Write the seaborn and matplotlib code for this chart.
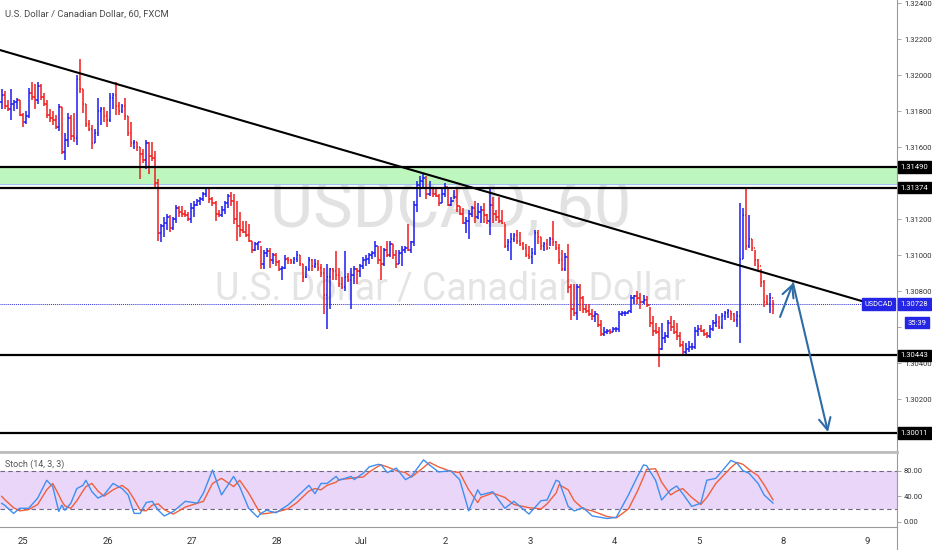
import numpy as np
import pandas as pd
import seaborn as sns
import matplotlib.pyplot as plt
from matplotlib.lines import Line2D
from matplotlib.ticker import FormatStrFormatter

# USDCAD 60 min bars, in pips above 1.3000 (open = previous close)
high_pips = [
    192, 191, 186, 192, 186, 187, 186, 179, 180, 193, 196, 195, 196, 195, 190, 186, 181, 180, 178, 184, 182,
    168, 179, 178, 179, 200, 209, 192, 184, 175, 172, 170, 187, 182, 182, 180, 190, 190, 196, 185, 184, 187,
    177, 174, 164, 163, 160, 159, 164, 163, 163, 158, 142, 117, 121, 123, 122, 121, 128, 127, 127, 125, 124,
    129, 130, 131, 132, 135, 138, 137, 132, 130, 125, 127, 130, 134, 135, 134, 130, 124, 119, 119, 117, 108,
    107, 107, 105, 103, 104, 104, 101, 101, 97, 94, 100, 99, 98, 99, 102, 100, 95, 94, 99, 98, 98, 97, 95,
    93, 95, 93, 93, 102, 93, 88, 102, 90, 93, 94, 93, 95, 99, 100, 101, 102, 108, 105, 105, 104,
    108, 108, 106, 103, 103, 105, 105, 117, 108, 130, 141, 144, 145, 144, 141, 138, 137, 134, 137, 140, 138,
    132, 136, 138, 127, 126, 121, 125, 127, 130, 129, 127, 129, 123, 138, 132, 125, 132, 125, 117, 109, 112,
    112, 114, 113, 107, 106, 105, 104, 114, 114, 110, 107, 109, 110, 119, 108, 106, 103, 101, 106, 84, 84, 84, 84,
    77, 73, 73, 70, 69, 67, 64, 60, 59, 59, 60, 60, 69, 69, 69, 69, 78, 78, 80, 79, 78, 77, 71, 66, 62, 60,
    62, 57, 64, 66, 64, 62, 57, 52, 51, 52, 51, 60, 61, 61, 59, 57, 61, 64, 67, 66, 68, 69, 70, 69, 68, 69,
    129, 126, 137, 122, 109, 103, 98, 92, 86, 78, 79, 75,
]
low_pips = [
    181, 181, 180, 175, 180, 181, 177, 171, 173, 176, 186, 181, 184, 186, 183, 176, 174, 172, 170, 169, 156,
    153, 160, 164, 163, 161, 190, 179, 171, 169, 159, 162, 166, 172, 174, 171, 174, 181, 178, 178, 179, 175,
    166, 160, 159, 158, 142, 151, 148, 145, 152, 138, 108, 107, 110, 114, 113, 114, 118, 121, 121, 121, 119,
    118, 121, 127, 128, 130, 132, 129, 127, 119, 121, 121, 123, 126, 127, 117, 108, 110, 112, 110, 107, 101,
    102, 103, 92, 92, 99, 93, 95, 94, 91, 86, 92, 95, 95, 95, 96, 94, 85, 87, 91, 91, 93, 91, 88,
    67, 59, 70, 86, 86, 82, 81, 80, 85, 70, 84, 84, 88, 92, 94, 95, 98, 99, 95, 86, 94,
    99, 99, 98, 93, 95, 94, 101, 102, 101, 105, 124, 132, 138, 131, 133, 132, 132, 127, 129, 132, 127,
    127, 131, 124, 122, 117, 112, 109, 121, 118, 120, 118, 118, 117, 111, 118, 119, 118, 117, 104, 102, 97,
    107, 106, 105, 103, 99, 98, 95, 100, 106, 103, 102, 103, 105, 105, 103, 95, 91, 91, 79, 64, 66, 64, 69,
    68, 68, 66, 64, 63, 60, 55, 55, 56, 56, 57, 57, 57, 66, 66, 67, 68, 73, 73, 70, 73, 71, 60, 55, 56, 38,
    47, 51, 54, 58, 56, 53, 49, 45, 44, 46, 47, 48, 55, 57, 55, 54, 54, 58, 60, 59, 59, 64, 65, 64, 63, 60,
    51, 98, 103, 104, 102, 94, 91, 82, 71, 72, 68, 67,
]
close_pips = [
    189, 183, 181, 184, 185, 186, 178, 174, 177, 190, 188, 186, 194, 188, 184, 178, 176, 175, 171, 182, 157,
    164, 176, 166, 165, 198, 192, 184, 173, 170, 162, 168, 180, 181, 177, 175, 187, 189, 183, 180, 183, 177,
    168, 162, 163, 160, 156, 153, 162, 155, 154, 140, 112, 116, 118, 121, 115, 120, 126, 124, 123, 122, 120,
    126, 128, 130, 131, 134, 137, 131, 129, 123, 122, 125, 129, 133, 130, 120, 116, 114, 113, 111, 108, 103,
    106, 107, 95, 101, 102, 97, 100, 96, 92, 93, 98, 97, 96, 98, 100, 95, 88, 92, 97, 94, 95, 93, 90,
    78, 88, 92, 91, 89, 84, 82, 88, 86, 89, 92, 91, 94, 97, 98, 100, 101, 105, 97, 95, 103,
    100, 106, 100, 95, 101, 103, 104, 103, 107, 128, 139, 141, 143, 134, 137, 134, 133, 129, 134, 138, 128,
    130, 132, 127, 123, 118, 119, 123, 126, 121, 124, 125, 122, 119, 128, 123, 121, 119, 118, 105, 107, 109,
    111, 108, 106, 104, 100, 99, 101, 112, 110, 105, 106, 104, 109, 107, 104, 97, 92, 99, 82, 70, 68, 82, 76,
    70, 69, 67, 66, 67, 61, 56, 57, 58, 57, 59, 59, 67, 68, 68, 69, 76, 77, 76, 74, 75, 72, 62, 58, 57, 48,
    54, 55, 62, 60, 57, 55, 50, 46, 48, 49, 49, 58, 59, 58, 56, 55, 59, 62, 63, 60, 66, 68, 69, 67, 64, 66,
    98, 122, 105, 109, 104, 97, 94, 85, 74, 73, 76, 73,
]
first_open_pips = 185

day_labels = ["25", "26", "27", "28", "Jul", "2", "3", "4", "5", "8", "9"]
day_bars = [7.1, 35.3, 63.2, 91.4, 119.3, 147.2, 175.4, 203.2, 231.4, 259.3, 287.2]

price_ticks = [1.302, 1.304, 1.306, 1.308, 1.310, 1.312, 1.314, 1.316, 1.318, 1.320, 1.322, 1.324]
# labels hidden behind the boxes on the scale are left blank
price_tick_labels = ["1.30200", "1.30400", "", "1.30800", "1.31000", "1.31200", "", "1.31600",
                     "1.31800", "1.32000", "1.32200", "1.32400"]

# drawings on the chart
zone_top, zone_bottom = 1.31490, 1.31394
level_prices = [1.31490, 1.31374, 1.30443, 1.30011]
level_labels = ["1.31490", "1.31374", "1.30443", "1.30011"]
last_price = 1.30728
trend_bars = [-0.5, 291.5]
trend_prices = [1.32139, 1.30715]
arrow_bars = [258.3, 262.6, 274.2]
arrow_prices = [1.30656, 1.30844, 1.30017]

# Stoch (14, 3, 3)
stoch_bars = [0, 1, 4, 6, 9, 12, 15, 17, 19, 20, 21, 23, 25, 27, 28, 30, 32, 34, 37, 40, 42, 44, 46, 48, 50,
              52, 54, 57, 61, 65, 67, 70, 73, 77, 79, 82, 85, 86, 88, 91, 95, 98, 102, 104, 106, 108, 111,
              112, 116, 117, 120, 122, 125, 126, 128, 131, 134, 136, 140, 142, 145, 149, 152, 155, 158, 159,
              163, 167, 170, 175, 179, 181, 184, 185, 188, 190, 193, 196, 201, 204, 208, 211, 213, 214, 217,
              219, 222, 224, 226, 229, 232, 234, 237, 242, 244, 246, 248, 251, 253, 256]
stoch_k = [29, 26, 13, 21, 21, 37, 65, 55, 16, 26, 18, 29, 52, 57, 65, 47, 37, 42, 60, 52, 42, 13, 13, 30, 32,
           18, 9, 16, 32, 29, 45, 81, 42, 71, 55, 21, 7, 13, 18, 14, 26, 39, 57, 44, 60, 60, 71, 65, 71, 66,
           76, 86, 90, 89, 77, 84, 66, 71, 97, 89, 78, 80, 66, 17, 50, 42, 47, 21, 32, 12, 33, 34, 65, 63, 24,
           17, 22, 9, 5, 7, 42, 71, 89, 88, 65, 34, 50, 56, 44, 24, 29, 65, 68, 96, 92, 80, 76, 60, 42, 29]
stoch_d = [40, 35, 22, 17, 19, 27, 50, 60, 42, 32, 25, 21, 33, 48, 55, 60, 48, 40, 50, 57, 50, 35, 18, 17, 26,
           28, 19, 12, 23, 29, 32, 60, 68, 55, 65, 45, 20, 12, 13, 15, 20, 30, 48, 52, 50, 57, 62, 66, 68, 69,
           70, 78, 87, 89, 86, 80, 77, 70, 85, 93, 86, 79, 77, 50, 30, 38, 45, 38, 27, 22, 20, 28, 45, 58, 50,
           33, 20, 17, 8, 6, 20, 48, 70, 82, 83, 62, 42, 48, 52, 38, 27, 38, 60, 85, 93, 90, 82, 72, 58, 34]

highs = 1.3 + np.array(high_pips) / 10000
lows = 1.3 + np.array(low_pips) / 10000
closes = 1.3 + np.array(close_pips) / 10000
opens = np.r_[1.3 + first_open_pips / 10000, closes[:-1]]
bars = np.arange(len(closes))
bar_colors = np.where(closes >= opens, "#1c1cf0", "#f01c1c")

sns.set_theme(style="white")
plt.rcParams["font.family"] = ["Roboto", "DejaVu Sans"]

fig = plt.figure(figsize=(9.32, 5.5), dpi=100)
ax = fig.add_axes([0, 98 / 550, 897 / 932, 452 / 550])
ax2 = fig.add_axes([0, 23 / 550, 897 / 932, 75 / 550], sharex=ax)

# watermark + title
ax.text(0.502, 0.498, "USDCAD, 60", transform=ax.transAxes, ha="center", va="baseline",
        fontsize=48, color="#e2e2e2", zorder=0)
ax.text(0.502, 0.336, "U.S. Dollar / Canadian Dollar", transform=ax.transAxes, ha="center",
        va="baseline", fontsize=27, color="#e4e4e4", zorder=0)
ax.text(0.0056, 0.969, "U.S. Dollar / Canadian Dollar, 60, FXCM", transform=ax.transAxes,
        va="center", fontsize=6.8, color="#4a4a4a")

# levels
ax.axhspan(zone_bottom, zone_top, color="#bdf7bd", lw=0, zorder=0.2)
ax.axhline(zone_bottom, color="#a3c4ee", lw=0.8, zorder=0.3)
for p in level_prices:
    ax.axhline(p, color="black", lw=1.6, zorder=3)
ax.axhline(last_price, color="#2b2bd8", lw=0.7, ls=(0, (1, 1)), zorder=1)

# OHLC bars
ax.vlines(bars, lows, highs, colors=bar_colors, lw=1.1, zorder=2)
ax.hlines(opens, bars - 0.45, bars, colors=bar_colors, lw=1.1, zorder=2)
ax.hlines(closes, bars, bars + 0.45, colors=bar_colors, lw=1.1, zorder=2)

# trend line and arrows
ax.plot(trend_bars, trend_prices, color="black", lw=1.5, zorder=3)
arrow_style = dict(arrowstyle="->,head_length=0.7,head_width=0.35", color="#2e6ca6", lw=1.5,
                   shrinkA=0, shrinkB=0)
for i in range(2):
    ax.annotate("", xy=(arrow_bars[i + 1], arrow_prices[i + 1]), xytext=(arrow_bars[i], arrow_prices[i]),
                arrowprops=arrow_style, zorder=4)

ax.set_xlim(-0.5, 297.1)
ax.set_ylim(1.29906, 1.32417)
ax.yaxis.tick_right()
ax.set_yticks(price_ticks)
ax.set_yticklabels(price_tick_labels)
ax.tick_params(axis="y", length=3, width=0.6, color="#999999", labelsize=5.5, labelcolor="#333333", pad=2)
ax.tick_params(axis="x", bottom=False, labelbottom=False)
for s in ["top", "left"]:
    ax.spines[s].set_visible(False)
ax.spines["bottom"].set_color("#bdbdbd")
ax.spines["bottom"].set_linewidth(2)
ax.spines["right"].set_color("#9a9a9a")
ax.spines["right"].set_linewidth(0.8)

# price labels on the scale
ytr = ax.get_yaxis_transform()
box_font = 5.5
for p, lab in zip(level_prices, level_labels):
    ax.text(1.004, p, lab, transform=ytr, ha="left", va="center", fontsize=box_font, color="white",
            bbox=dict(boxstyle="square,pad=0.35", fc="black", ec="black"), clip_on=False, zorder=6)
ax.text(1.004, last_price, "1.30728", transform=ytr, ha="left", va="center", fontsize=box_font, color="white",
        bbox=dict(boxstyle="square,pad=0.35", fc="#2525e6", ec="#2525e6"), clip_on=False, zorder=6)
ax.annotate("35:39", xy=(1.012, last_price), xycoords=ytr, xytext=(0, -13.5), textcoords="offset points",
            ha="left", va="center", fontsize=box_font, color="white",
            bbox=dict(boxstyle="square,pad=0.35", fc="#2525e6", ec="#2525e6"), annotation_clip=False, zorder=6)
ax.text(0.995, last_price, "USDCAD", transform=ytr, ha="right", va="center", fontsize=5.3, color="white",
        bbox=dict(boxstyle="square,pad=0.3", fc="#2525e6", ec="#2525e6"), zorder=6)

# stochastic pane
stoch = pd.DataFrame({"bar": stoch_bars, "k": stoch_k, "d": stoch_d})
ax2.axhspan(20, 80, color="#e9d6f9", lw=0, zorder=0)
ax2.axhline(80, color="#6f6880", lw=0.8, ls=(0, (4, 3)), zorder=1)
ax2.axhline(20, color="#6f6880", lw=0.8, ls=(0, (4, 3)), zorder=1)
sns.lineplot(data=stoch, x="bar", y="d", ax=ax2, color="#f0603c", lw=1)
sns.lineplot(data=stoch, x="bar", y="k", ax=ax2, color="#3f8ef0", lw=1)
ax2.text(0.0056, 0.84, "Stoch (14, 3, 3)", transform=ax2.transAxes, va="center", fontsize=6.5, color="#555555")

ax2.set_xlabel("")
ax2.set_ylabel("")
ax2.set_ylim(-8.3, 109.3)
ax2.set_xlim(-0.5, 297.1)
ax2.yaxis.tick_right()
ax2.set_yticks([0, 40, 80])
ax2.yaxis.set_major_formatter(FormatStrFormatter("%.2f"))
ax2.set_xticks(day_bars)
ax2.set_xticklabels(day_labels)
ax2.tick_params(axis="y", length=3, width=0.6, color="#999999", labelsize=5.5, labelcolor="#333333", pad=2)
ax2.tick_params(axis="x", length=3, width=0.6, color="#999999", labelsize=6.8, labelcolor="#333333", pad=4)
ax2.spines["left"].set_visible(False)
ax2.spines["top"].set_color("#bdbdbd")
ax2.spines["top"].set_linewidth(2)
for s in ["right", "bottom"]:
    ax2.spines[s].set_color("#9a9a9a")
    ax2.spines[s].set_linewidth(0.8)

fig.add_artist(Line2D([897 / 932, 897 / 932], [0, 23 / 550], color="#9a9a9a", lw=0.8))

fig.savefig("out.png", dpi=100)
